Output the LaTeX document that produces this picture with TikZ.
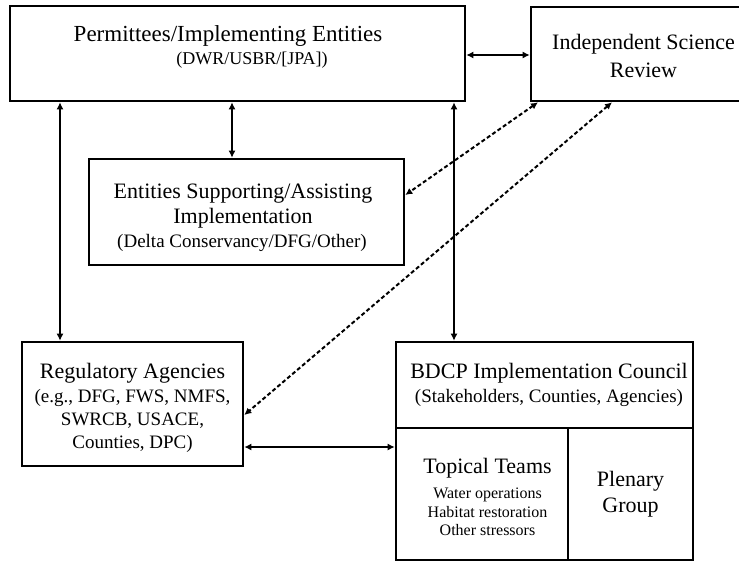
\documentclass[tikz,border=0pt]{standalone}
\usepackage{fontspec}
\setmainfont{Liberation Serif}
\usetikzlibrary{arrows.meta}
\newcommand\fbig{\fontsize{22}{26}\selectfont}
\newcommand\fttl{\fontsize{23}{27}\selectfont}
\newcommand\fmed{\fontsize{19}{23}\selectfont}
\newcommand\fdwr{\fontsize{18}{22}\selectfont}
\newcommand\fsml{\fontsize{16}{19}\selectfont}
\begin{document}
\begin{tikzpicture}[x=1pt,y=-1pt,
  box/.style={draw, line width=2.6pt, rectangle, inner sep=0pt},
  txt/.style={anchor=base, inner sep=0pt},
  conn/.style={line width=2pt, {Latex[length=7pt,width=7pt]}-{Latex[length=7pt,width=7pt]}},
  dconn/.style={line width=2pt, dash pattern=on 4pt off 2.5pt, {Latex[length=7pt,width=7pt]}-{Latex[length=7pt,width=7pt]}}]
\clip (0,0) rectangle (739,562);
\fill[white] (0,0) rectangle (739,562);
% boxes
\node[box, minimum width=455pt, minimum height=95pt] (perm) at (237.5,53.5) {};
\node[box, minimum width=225pt, minimum height=94pt] (isr) at (643.5,54) {};
\node[box, minimum width=315pt, minimum height=106pt] (ent) at (246.5,212) {};
\node[box, minimum width=221pt, minimum height=124pt] (reg) at (132.5,404) {};
\node[box, minimum width=297pt, minimum height=218pt] (bdcp) at (544.5,451) {};
\node[box, minimum width=172pt, minimum height=132pt] (topic) at (482,494) {};
\node[box, minimum width=125pt, minimum height=132pt] (plen) at (630.5,494) {};
% texts
\node[txt] (t1) at (228,41) {\fttl Permittees/Implementing Entities};
\node[txt] (t2) at (252,64) {\fdwr (DWR/USBR/[JPA])};
\node[txt] (t3) at (643.5,49) {\fbig Independent Science};
\node[txt] (t4) at (643.5,77) {\fbig Review};
\node[txt] (t5) at (243,198) {\fbig Entities Supporting/Assisting};
\node[txt] (t6) at (243,223) {\fbig Implementation};
\node[txt] (t7) at (242,247) {\fmed (Delta Conservancy/DFG/Other)};
\node[txt] (t8) at (132.5,378) {\fbig Regulatory Agencies};
\node[txt] (t9) at (132.5,402) {\fmed (e.g., DFG, FWS, NMFS,};
\node[txt] (t10) at (132.5,425) {\fmed SWRCB, USACE,};
\node[txt] (t11) at (132.5,448) {\fmed Counties, DPC)};
\node[txt] (t12) at (549,378) {\fbig BDCP Implementation Council};
\node[txt] (t13) at (549,402) {\fmed (Stakeholders, Counties, Agencies)};
\node[txt] (t14) at (487.5,473) {\fbig Topical Teams};
\node[txt] (t15) at (487.5,498) {\fsml Water operations};
\node[txt] (t16) at (487.5,517) {\fsml Habitat restoration};
\node[txt] (t17) at (487.5,535) {\fsml Other stressors};
\node[txt] (t18) at (630.5,486) {\fbig Plenary};
\node[txt] (t19) at (630.5,512) {\fbig Group};
% connector guides
\coordinate (xL) at (60,0);
\coordinate (xM) at (232,0);
\coordinate (xR) at (454,0);
\coordinate (yT) at (0,55);
\coordinate (yB) at (0,447);
\coordinate (xD1) at (538,0);
\coordinate (xD2) at (612,0);
\coordinate (yE) at (0,195);
\coordinate (yR) at (0,415);
% connectors
\draw[conn] (perm.east |- yT) -- (isr.west |- yT);
\draw[conn] (perm.south -| xL) -- (reg.north -| xL);
\draw[conn] (perm.south -| xM) -- (ent.north -| xM);
\draw[conn] (perm.south -| xR) -- (bdcp.north -| xR);
\draw[conn] (reg.east |- yB) -- (bdcp.west |- yB);
\draw[dconn] (isr.south -| xD1) -- (ent.east |- yE);
\draw[dconn] (isr.south -| xD2) -- (reg.east |- yR);
\end{tikzpicture}
\end{document}
